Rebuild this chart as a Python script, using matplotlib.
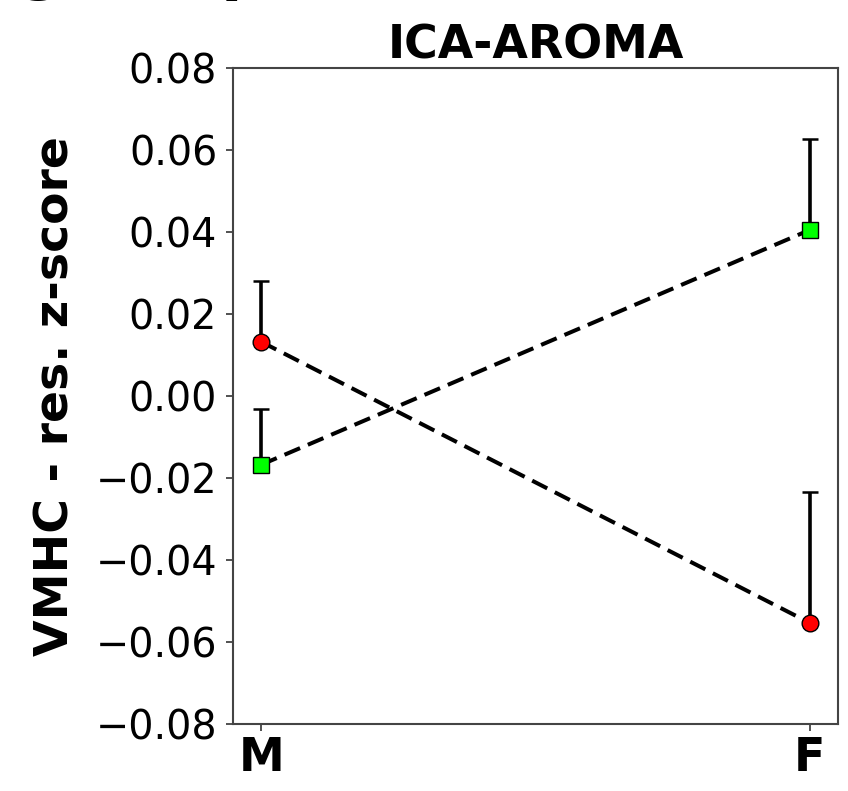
import matplotlib
matplotlib.use("Agg")
import matplotlib.pyplot as plt

groups = ["M", "F"]
red_means = [0.0132, -0.0554]
red_upper_err = [0.0148, 0.0320]
green_means = [-0.0168, 0.0405]
green_upper_err = [0.0136, 0.0222]
yticks = [-0.08, -0.06, -0.04, -0.02, 0.00, 0.02, 0.04, 0.06, 0.08]

fig = plt.figure(figsize=(8.48, 7.91), dpi=100)
ax = fig.add_axes([0.275, 0.085, 0.713, 0.829])

x = list(range(len(groups)))
for means, errs, color, marker in [(red_means, red_upper_err, "red", "o"),
                                   (green_means, green_upper_err, "lime", "s")]:
    ax.errorbar(x, means, yerr=[[0] * len(errs), errs], fmt="none", ecolor="black",
                elinewidth=2.6, capsize=6, capthick=1.8, zorder=2)
    ax.plot(x, means, linestyle="--", color="black", linewidth=2.9, dashes=(4.2, 2.1), zorder=3)
    ax.plot(x, means, linestyle="none", marker=marker, markersize=12,
            markerfacecolor=color, markeredgecolor="black", markeredgewidth=1.0, zorder=4)

ax.set_xlim(-0.051, 1.051)
ax.set_ylim(-0.08, 0.08)
ax.set_yticks(yticks)
ax.set_yticklabels([f"{v:.2f}".replace("-", "\u2212") for v in yticks], fontsize=28.5)
ax.set_xticks(x)
ax.set_xticklabels(groups, fontsize=33, fontweight="bold")
ax.tick_params(axis="both", length=5, width=1.2, color="#333333")
ax.tick_params(axis="y", pad=6.5)
for s in ax.spines.values():
    s.set_linewidth(1.5)
    s.set_color("#444444")
ax.set_title("ICA-AROMA", fontsize=33, fontweight="bold", pad=6)
ax.set_ylabel("VMHC - res. z-score", fontsize=34, fontweight="bold", labelpad=12)

fig.text(0.03, 1.0 + 12 / 791, "g   \u2013   p", fontsize=44, fontweight="bold",
         fontstyle="italic", va="baseline", ha="left")

fig.savefig("out.png", dpi=100)
